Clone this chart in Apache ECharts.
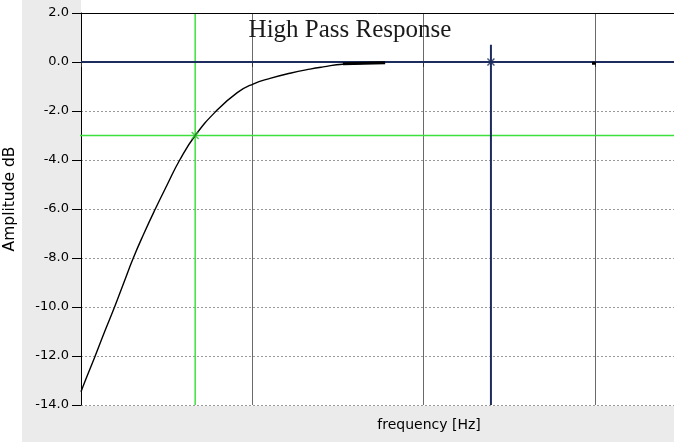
<!DOCTYPE html>
<html>
<head>
<meta charset="utf-8">
<script src="https://cdn.jsdelivr.net/npm/echarts@6/dist/echarts.min.js"></script>
<style>
html,body{margin:0;padding:0;background:#fff;}
#chart{width:674px;height:442px;}
</style>
</head>
<body>
<div id="chart"></div>
<script>
// Frequency (Hz, log axis) and amplitude (dB)
var freq = [10, 10.6, 12.1, 13.75, 15.7, 17.8, 20.2, 23.3, 27.15, 31.9, 37.7, 46.4, 61.6, 81.7, 101, 127, 166, 217, 259, 338, 596];
var amp  = [-13.46, -13.0, -12.0, -11.0, -10.0, -9.0, -8.0, -7.0, -6.0, -5.0, -4.0, -3.0, -2.0, -1.25, -0.9, -0.67, -0.46, -0.29, -0.2, -0.09, -0.03];
var flatFreq = [338, 596];
var flatAmp = [-0.07, -0.03];
var yTicks = [2, 0, -2, -4, -6, -8, -10, -12, -14];
var cutoffFreq = 46.4;     // green cursor
var cutoffAmp = -3.0;
var markerFreq = 2472;     // blue cursor
var markerAmp = 0.0;
var blueTop = 0.7;
var stubFreq = [9616, 10140];
var stubAmp = [-0.05, -0.05];
var xMin = 10, xMax = 29740;
var yMin = -14, yMax = 2;

function pairs(xs, ys){ return xs.map(function(x,i){ return [x, ys[i]]; }); }

var chart = echarts.init(document.getElementById('chart'), null, {renderer:'canvas'});
var cross = 'path://M0,0L10,10M10,0L0,10';
chart.setOption({
  animation:false,
  backgroundColor:'#ffffff',
  grid:{left:81, width:595, top:13, height:392, show:true, backgroundColor:'#ffffff', borderWidth:0,
        containLabel:false, outerBoundsMode:'none'},
  xAxis:{
    type:'log', logBase:10, min:xMin, max:xMax,
    axisLine:{show:false},
    axisTick:{show:true, length:5, lineStyle:{color:'#333'}},
    axisLabel:{show:false},
    splitLine:{show:true, lineStyle:{color:'#6a6a6a', width:1}},
    minorTick:{show:false}, minorSplitLine:{show:false}
  },
  yAxis:{
    type:'value', min:yMin, max:yMax, interval:2,
    axisLine:{show:true, onZero:false, lineStyle:{color:'#000', width:1}},
    axisTick:{show:true, length:9, lineStyle:{color:'#000'}},
    axisLabel:{color:'#000', fontSize:13, fontFamily:'DejaVu Sans', margin:12,
      formatter:function(v){ return yTicks.indexOf(v) >= 0 ? v.toFixed(1) : ''; }},
    splitLine:{show:true, lineStyle:{color:'#999', width:1, type:[2,2]}}
  },
  graphic:[
    {type:'rect', z:-10, shape:{x:22, y:0, width:59, height:442}, style:{fill:'#ebebeb'}},
    {type:'rect', z:-10, shape:{x:22, y:406, width:652, height:36}, style:{fill:'#ebebeb'}},
    {type:'line', z:50, shape:{x1:81, y1:13.5, x2:674, y2:13.5}, style:{stroke:'#000', lineWidth:1}},
    {type:'text', z:50, x:350, y:30, style:{text:'High Pass Response', font:'25px "Liberation Serif"', fill:'#1a1a1a', align:'center', verticalAlign:'middle'}},
    {type:'text', z:50, x:429, y:425, style:{text:'frequency [Hz]', font:'14px "DejaVu Sans"', fill:'#000', align:'center', verticalAlign:'middle'}},
    {type:'text', z:50, x:10, y:199, rotation:Math.PI/2, style:{text:'Amplitude dB', font:'15.5px "DejaVu Sans"', fill:'#000', align:'center', verticalAlign:'middle'}}
  ],
  series:[
    {type:'line', data:[[cutoffFreq, yMax],[cutoffFreq, yMin]], symbol:'none', lineStyle:{color:'#3ee03e', width:1.5}, z:3, silent:true},
    {type:'line', clip:false, data:[[9.35, cutoffAmp],[xMax, cutoffAmp]], symbol:'none', lineStyle:{color:'#3ee03e', width:1.5}, z:3, silent:true},
    {type:'line', data:[[xMin, markerAmp],[xMax, markerAmp]], symbol:'none', lineStyle:{color:'#1c2c5c', width:2}, z:4, silent:true},
    {type:'line', data:[[markerFreq, blueTop],[markerFreq, yMin]], symbol:'none', lineStyle:{color:'#1c2c5c', width:2}, z:4, silent:true},
    {type:'line', data:pairs(freq, amp), smooth:0.5, symbol:'none', lineStyle:{color:'#000', width:1.4}, z:5},
    {type:'line', data:pairs(flatFreq, flatAmp), symbol:'none', lineStyle:{color:'#000', width:3}, z:5},
    {type:'line', data:pairs(stubFreq, stubAmp), symbol:'none', lineStyle:{color:'#000', width:3}, z:5},
    {type:'scatter', data:[[cutoffFreq, cutoffAmp]], symbol:cross, symbolSize:7,
      itemStyle:{color:'rgba(0,0,0,0)', borderColor:'#2fc02f', borderWidth:1.5}, z:6},
    {type:'scatter', data:[[markerFreq, markerAmp]], symbol:cross, symbolSize:7,
      itemStyle:{color:'rgba(0,0,0,0)', borderColor:'#1c2c5c', borderWidth:1.5}, z:6}
  ]
});
</script>
</body>
</html>
